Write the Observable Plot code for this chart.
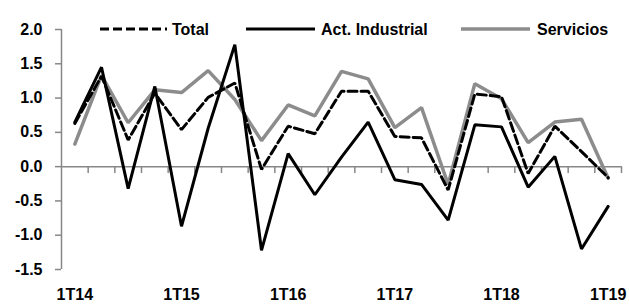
<!DOCTYPE html>
<html>
<head>
<meta charset="utf-8">
<script src="https://cdn.jsdelivr.net/npm/d3@7"></script>
<script src="https://cdn.jsdelivr.net/npm/@observablehq/plot@0.6"></script>
<style>
  html, body { margin: 0; padding: 0; background: #fff; }
  #chart { position: relative; width: 629px; height: 305px; }
</style>
</head>
<body>
<div id="chart"></div>
<script>
const quarters = ["1T14","2T14","3T14","4T14","1T15","2T15","3T15","4T15","1T16","2T16","3T16","4T16","1T17","2T17","3T17","4T17","1T18","2T18","3T18","4T18","1T19"];
const total      = [0.63, 1.32, 0.39, 1.07, 0.54, 1.01, 1.22, -0.04, 0.59, 0.48, 1.10, 1.10, 0.44, 0.42, -0.34, 1.06, 1.02, -0.10, 0.59, 0.22, -0.16];
const industrial = [0.65, 1.45, -0.32, 1.17, -0.87, 0.56, 1.78, -1.22, 0.19, -0.41, 0.14, 0.65, -0.19, -0.26, -0.78, 0.61, 0.58, -0.30, 0.15, -1.20, -0.58];
const servicios  = [0.33, 1.33, 0.64, 1.12, 1.08, 1.40, 0.98, 0.38, 0.90, 0.74, 1.39, 1.28, 0.57, 0.86, -0.26, 1.21, 0.99, 0.35, 0.65, 0.69, -0.17];
const yTicks = [-1.5, -1.0, -0.5, 0.0, 0.5, 1.0, 1.5, 2.0];
const xLabelIdx = [0, 4, 8, 12, 16, 20];

const gray = "#878787";
const toRows = (arr) => arr.map((v, i) => ({i, v}));
const boundaries = d3.range(quarters.length + 1).map(k => k - 0.5);

const series = [
  {name: "Total", stroke: "#000", width: 3, dash: "9,4"},
  {name: "Act. Industrial", stroke: "#000", width: 3, dash: null},
  {name: "Servicios", stroke: "#8c8c8c", width: 3.5, dash: null}
];

const chart = Plot.plot({
  width: 629,
  height: 305,
  marginLeft: 61,
  marginRight: 8,
  marginTop: 29,
  marginBottom: 36,
  x: {type: "linear", domain: [-0.5, quarters.length - 0.5]},
  y: {domain: [-1.5, 2]},
  style: {fontFamily: "'Liberation Sans', Arial, sans-serif", fontWeight: "bold", fontSize: "16px", color: "#000", background: "#fff"},
  marks: [
    Plot.ruleX([-0.5], {y1: yTicks[0], y2: yTicks[yTicks.length - 1], stroke: gray, strokeWidth: 1.5}),
    Plot.ruleY([0], {stroke: gray, strokeWidth: 1.5}),
    Plot.ruleX(boundaries.slice(1), {y1: 0, y2: -0.1, stroke: gray, strokeWidth: 1.5}),
    Plot.axisY({ticks: yTicks, tickSize: 6, tickPadding: 13, tickFormat: d => d.toFixed(1), stroke: gray, strokeWidth: 1.5, fill: "#000", label: null}),
    Plot.axisX({ticks: xLabelIdx, tickSize: 0, tickPadding: 19, tickFormat: i => quarters[i], fill: "#000", label: null}),
    Plot.line(toRows(servicios), {x: "i", y: "v", stroke: series[2].stroke, strokeWidth: series[2].width, strokeLinejoin: "miter"}),
    Plot.line(toRows(total), {x: "i", y: "v", stroke: series[0].stroke, strokeWidth: series[0].width, strokeDasharray: series[0].dash, strokeLinejoin: "miter"}),
    Plot.line(toRows(industrial), {x: "i", y: "v", stroke: series[1].stroke, strokeWidth: series[1].width, strokeLinejoin: "miter"})
  ]
});
document.getElementById("chart").appendChild(chart);

// Legend inside the plot area, at the top
const legendPos = [
  {x1: 100, x2: 167, tx: 172},
  {x1: 246, x2: 315, tx: 321},
  {x1: 461, x2: 530, tx: 537}
];
const lg = d3.select(chart).append("g").attr("class", "legend");
series.forEach((s, k) => {
  const p = legendPos[k];
  lg.append("line")
    .attr("x1", p.x1).attr("x2", p.x2).attr("y1", 29).attr("y2", 29)
    .attr("stroke", s.stroke).attr("stroke-width", s.width)
    .attr("stroke-dasharray", s.dash);
  lg.append("text")
    .attr("x", p.tx).attr("y", 35)
    .attr("fill", "#000")
    .attr("text-anchor", "start")
    .style("font-family", "'Liberation Sans', Arial, sans-serif")
    .style("font-weight", "bold").style("font-size", "16px")
    .text(s.name);
});
</script>
</body>
</html>
